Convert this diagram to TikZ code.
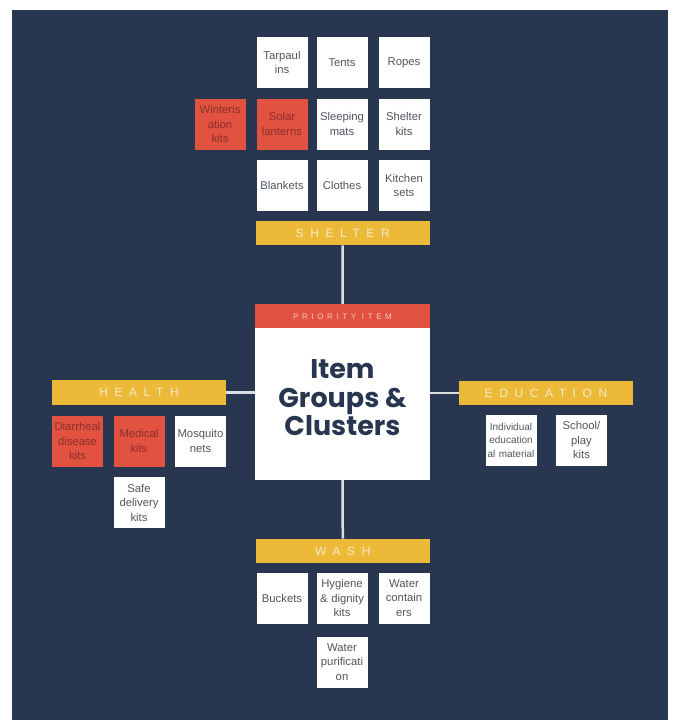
\documentclass[tikz,border=0pt]{standalone}
\usepackage{fontspec}
\setmainfont{Liberation Sans}
\newfontfamily\barfont[LetterSpace=55]{Liberation Sans}
\newfontfamily\priofont[LetterSpace=45]{Liberation Sans}
\newfontfamily\titlefont{Poppins}
\definecolor{navy}{HTML}{28374F}
\definecolor{gold}{HTML}{EDB938}
\definecolor{redbox}{HTML}{E15241}
\definecolor{redtext}{HTML}{8C2E2A}
\definecolor{graytext}{HTML}{50555E}
\definecolor{cream}{HTML}{F7EBC9}
\definecolor{pink}{HTML}{F7C9BE}
\definecolor{linkc}{HTML}{DADFE6}
\tikzset{
  itembox/.style={fill=white, minimum width=51pt, minimum height=51pt, inner sep=0pt,
    text width=51pt, align=center, text=graytext,
    font=\fontsize{11.3pt}{14.5pt}\selectfont},
  redbox/.style={itembox, fill=redbox, text=redtext},
  barbox/.style={fill=gold, minimum width=174pt, minimum height=24.5pt, inner sep=0pt,
    text=cream, font=\fontsize{12pt}{14pt}\barfont},
  link/.style={draw=linkc, line width=2.5pt}
}
\begin{document}
\begin{tikzpicture}[x=1pt,y=-1pt]
\fill[white] (0,0) rectangle (673,720);
\useasboundingbox (0,0) rectangle (673,720);
\fill[navy] (12,10) rectangle (668,720);

% SHELTER
\node[itembox] (tarp) at (282,62.5) {Tarpaul\\ins};
\node[itembox] (tents) at (342,62.5) {Tents};
\node[itembox] (ropes) at (404,62.5) {Ropes};
\node[redbox] (winter) at (220,124) {Winteris\\ation\\kits};
\node[redbox] (solar) at (282,124) {Solar\\lanterns};
\node[itembox] (sleep) at (342,124) {Sleeping\\mats};
\node[itembox] (skits) at (404,124) {Shelter\\kits};
\node[itembox] (blank) at (282,185.5) {Blankets};
\node[itembox] (cloth) at (342,185.5) {Clothes};
\node[itembox] (kitch) at (404,185.5) {Kitchen\\sets};
\node[barbox] (shelter) at (342.7,233) {SHELTER};

% core
\node[fill=white, minimum width=175pt, minimum height=176pt, inner sep=0pt] (core) at (342.5,392) {};
\node[fill=redbox, minimum width=175pt, minimum height=24pt, inner sep=0pt,
  text=pink, font=\fontsize{8pt}{9pt}\priofont] (prio) at (342.5,316.3) {PRIORITY ITEM};
\node[align=center, text=navy, font=\fontsize{27pt}{28.5pt}\titlefont\bfseries] (title) at (342.5,398)
  {Item\\Groups \&\\Clusters};

% HEALTH
\node[barbox] (health) at (139,392.5) {HEALTH};
\node[redbox] (diarr) at (77.5,441) {Diarrheal\\disease\\kits};
\node[redbox] (medic) at (139,441) {Medical\\kits};
\node[itembox] (mosq) at (200.5,441) {Mosquito\\nets};
\node[itembox] (safe) at (139,502.5) {Safe\\delivery\\kits};

% EDUCATION
\node[barbox] (edu) at (546,393) {EDUCATION};
\node[itembox, font=\fontsize{10pt}{13.5pt}\selectfont] (indiv) at (511,440) {Individual\\education\\al material};
\node[itembox] (school) at (581.5,440) {School/\\play\\kits};

% WASH
\node[barbox] (wash) at (342.8,551) {WASH};
\node[itembox] (buck) at (282,598) {Buckets};
\node[itembox] (hyg) at (342,598) {Hygiene\\\& dignity\\kits};
\node[itembox] (wcont) at (404,598) {Water\\contain\\ers};
\node[itembox] (wpur) at (342,662) {Water\\purificati\\on};

% links
\draw[link] (shelter.south) -- (prio.north);
\draw[link] (core.south) -- (wash.north);
\draw[link] (health.east) -- (health.east -| core.west);
\draw[link] (edu.west -| core.east) -- (edu.west);
\end{tikzpicture}
\end{document}
